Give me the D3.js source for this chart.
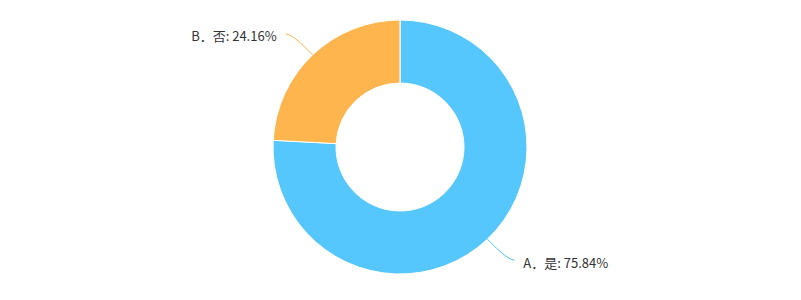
<!DOCTYPE html>
<html>
<head>
<meta charset="utf-8">
<script src="https://cdn.jsdelivr.net/npm/d3@7"></script>
<style>
  html, body { margin: 0; padding: 0; background: #fff; }
  svg { display: block; }
</style>
</head>
<body>
<div id="chart"></div>
<script>
(function () {
  'use strict';

  /* ---- data ---- */
  const labels = ['A．是', 'B．否'];
  const values = [75.84, 24.16];
  const colors = ['#55c7fd', '#ffb54d'];

  const W = 801, H = 300;
  const cx = 400, cy = 147;
  const rIn = 64, rOut = 127;

  const svg = d3.select('#chart').append('svg')
    .attr('width', W).attr('height', H);

  const pie = d3.pie().sort(null).value(d => d.value);
  const arcs = pie(labels.map((l, i) => ({ label: l, value: values[i], color: colors[i] })));

  const arcGen = d3.arc().innerRadius(rIn).outerRadius(rOut);

  const g = svg.append('g').attr('transform', `translate(${cx},${cy})`);

  g.selectAll('path.slice')
    .data(arcs)
    .join('path')
      .attr('class', 'slice')
      .attr('d', arcGen)
      .attr('fill', d => d.data.color)
      .attr('stroke', '#fff')
      .attr('stroke-width', 1);

  /* ---- label lines ---- */
  const pointAt = (a, r) => [r * Math.sin(a), -r * Math.cos(a)];

  arcs.forEach(d => {
    const mid = (d.startAngle + d.endAngle) / 2;
    const right = Math.sin(mid) > 0;
    const p0 = pointAt(mid, rOut);
    const p1 = pointAt(mid, 156);
    const p2 = [p1[0] + (right ? 7 : -7), p1[1]];
    g.append('path')
      .attr('d', `M${p0[0]},${p0[1]}Q${p1[0]},${p1[1]} ${p2[0]},${p2[1]}`)
      .attr('fill', 'none')
      .attr('stroke', d.data.color)
      .attr('stroke-width', 1);
    g.append('text')
      .attr('x', p2[0] + (right ? 9 : -9))
      .attr('y', p2[1] + 2)
      .attr('text-anchor', right ? 'start' : 'end')
      .attr('dominant-baseline', 'central')
      .attr('font-family', '"Noto Sans CJK SC", "Noto Sans", sans-serif')
      .attr('font-size', 13)
      .attr('fill', '#333')
      .text(`${d.data.label}: ${d.data.value.toFixed(2)}%`);
  });
})();
</script>
</body>
</html>
